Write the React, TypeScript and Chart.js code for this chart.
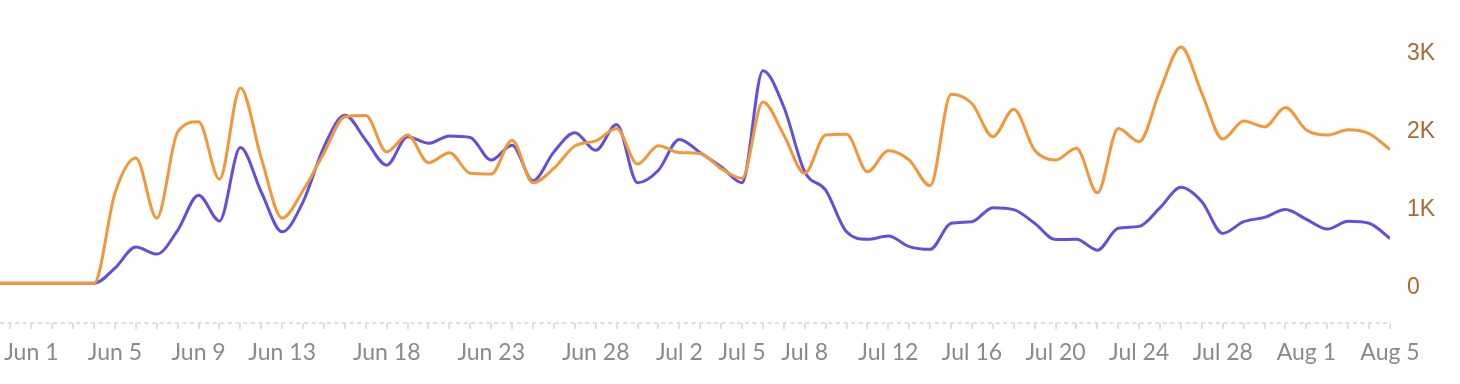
import React, { useEffect, useRef } from "react";
import { Chart, registerables } from "chart.js";

Chart.register(...registerables);

const dates = [
  "May 30", "May 31",
  "Jun 1", "Jun 2", "Jun 3", "Jun 4", "Jun 5", "Jun 6", "Jun 7", "Jun 8", "Jun 9", "Jun 10",
  "Jun 11", "Jun 12", "Jun 13", "Jun 14", "Jun 15", "Jun 16", "Jun 17", "Jun 18", "Jun 19", "Jun 20",
  "Jun 21", "Jun 22", "Jun 23", "Jun 24", "Jun 25", "Jun 26", "Jun 27", "Jun 28", "Jun 29", "Jun 30",
  "Jul 1", "Jul 2", "Jul 3", "Jul 4", "Jul 5", "Jul 6", "Jul 7", "Jul 8", "Jul 9", "Jul 10",
  "Jul 11", "Jul 12", "Jul 13", "Jul 14", "Jul 15", "Jul 16", "Jul 17", "Jul 18", "Jul 19", "Jul 20",
  "Jul 21", "Jul 22", "Jul 23", "Jul 24", "Jul 25", "Jul 26", "Jul 27", "Jul 28", "Jul 29", "Jul 30",
  "Jul 31", "Aug 1", "Aug 2", "Aug 3", "Aug 4", "Aug 5",
];

const orangeValues = [
  0, 0,
  0, 0, 0, 0, 1155, 1605, 835, 1940, 2070, 1335,
  2505, 1605, 835, 1190, 1670, 2135, 2150, 1685, 1900, 1545,
  1675, 1410, 1400, 1835, 1290, 1475, 1760, 1825, 1985, 1530,
  1765, 1675, 1665, 1470, 1345, 2325, 1900, 1410, 1900, 1910,
  1430, 1700, 1580, 1250, 2425, 2305, 1880, 2230, 1705, 1580,
  1730, 1160, 1985, 1815, 2475, 3030, 2435, 1850, 2080, 2005,
  2255, 1965, 1900, 1970, 1920, 1715,
];

const purpleValues = [
  0, 0,
  0, 0, 0, 0, 195, 465, 375, 680, 1130, 800,
  1740, 1170, 660, 1045, 1750, 2155, 1835, 1515, 1880, 1795,
  1890, 1870, 1580, 1770, 1315, 1685, 1930, 1705, 2035, 1290,
  1450, 1845, 1675, 1495, 1290, 2725, 2260, 1430, 1195, 660,
  565, 605, 470, 435, 770, 790, 970, 945, 770, 560,
  565, 425, 705, 730, 970, 1230, 1045, 640, 790, 845,
  945, 820, 695, 795, 770, 575,
];

const xTickLabels = [
  "Jun 1", "Jun 5", "Jun 9", "Jun 13", "Jun 18", "Jun 23", "Jun 28", "Jul 2", "Jul 5",
  "Jul 8", "Jul 12", "Jul 16", "Jul 20", "Jul 24", "Jul 28", "Aug 1", "Aug 5",
];

const yTickValues = [0, 1000, 2000, 3000];

const dashedAxis = {
  id: "dashedAxis",
  beforeDatasetsDraw(chart: any) {
    const { ctx, chartArea } = chart;
    ctx.save();
    ctx.strokeStyle = "#dedede";
    ctx.lineWidth = 2;
    ctx.setLineDash([4, 3.6]);
    ctx.beginPath();
    ctx.moveTo(chartArea.left, chartArea.bottom);
    ctx.lineTo(chartArea.right, chartArea.bottom);
    ctx.stroke();
    ctx.restore();
  },
};

export default function App() {
  const ref = useRef<HTMLCanvasElement | null>(null);

  useEffect(() => {
    document.body.style.margin = "0";
    const canvas = ref.current;
    if (!canvas) return;
    const chart = new Chart(canvas, {
      type: "line",
      data: {
        datasets: [
          {
            label: "Orange",
            data: orangeValues.map((v, i) => ({ x: i, y: v })),
            borderColor: "#f2983b",
            borderWidth: 3,
            pointRadius: 0,
            fill: false,
            cubicInterpolationMode: "monotone",
          },
          {
            label: "Purple",
            data: purpleValues.map((v, i) => ({ x: i, y: v })),
            borderColor: "#624fdc",
            borderWidth: 3,
            pointRadius: 0,
            fill: false,
            cubicInterpolationMode: "monotone",
          },
        ],
      },
      plugins: [dashedAxis],
      options: {
        animation: false,
        responsive: false,
        maintainAspectRatio: false,
        layout: { padding: 0 },
        plugins: { legend: { display: false }, tooltip: { enabled: false } },
        scales: {
          x: {
            type: "linear",
            min: 0.5,
            max: dates.length - 1,
            afterBuildTicks: (scale: any) => {
              const t: any[] = [];
              for (let i = 1; i < dates.length; i++) t.push({ value: i });
              scale.ticks = t;
            },
            afterFit: (scale: any) => {
              scale.height = 61;
              scale.paddingTop = 0;
              scale.paddingBottom = 0;
              scale.paddingLeft = 0;
            },
            grid: {
              display: true,
              drawOnChartArea: false,
              drawTicks: true,
              tickLength: 6,
              color: "#dedede",
              lineWidth: 2,
            },
            border: { display: false },
            ticks: {
              autoSkip: false,
              maxRotation: 0,
              minRotation: 0,
              padding: 10,
              color: "#8a8a8a",
              font: { family: "Lato", size: 23 },
              callback: (v: any) => {
                const d = dates[Math.round(Number(v))];
                return xTickLabels.includes(d) ? d : "";
              },
            },
          },
          y: {
            type: "linear",
            position: "right",
            min: -509,
            max: 3632,
            afterBuildTicks: (scale: any) => {
              scale.ticks = yTickValues.map((v) => ({ value: v }));
            },
            afterFit: (scale: any) => {
              scale.width = 70;
              scale.paddingTop = 0;
              scale.paddingBottom = 0;
            },
            grid: { display: false, drawTicks: false },
            border: { display: false },
            ticks: {
              padding: 17,
              labelOffset: 4,
              color: "#a96b2c",
              font: { family: "Liberation Sans", size: 23 },
              callback: (v: any) => (Number(v) === 0 ? "0" : Number(v) / 1000 + "K"),
            },
          },
        },
      },
    });
    return () => chart.destroy();
  }, []);

  return (
    <div style={{ width: 1460, height: 384 }}>
      <canvas ref={ref} width={1460} height={384} style={{ display: "block" }} />
    </div>
  );
}
